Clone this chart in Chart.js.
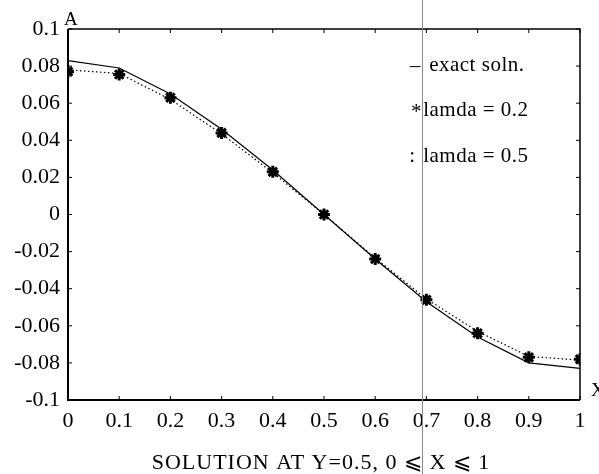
<!DOCTYPE html>
<html>
<head>
<meta charset="utf-8">
<script src="https://cdn.jsdelivr.net/npm/chart.js@4"></script>
<style>
  html, body { margin: 0; padding: 0; background: #fff; }
  #wrap { width: 599px; height: 474px; position: relative; }
</style>
</head>
<body>
<div id="wrap"><canvas id="solnChart" width="599" height="474"></canvas></div>
<script>
// Data
const xValues = [0, 0.1, 0.2, 0.3, 0.4, 0.5, 0.6, 0.7, 0.8, 0.9, 1];
const exactSoln = [0.083, 0.079, 0.065, 0.046, 0.024, 0, -0.024, -0.047, -0.066, -0.080, -0.083];
const lamda02 = [0.077, 0.0755, 0.063, 0.044, 0.023, 0, -0.024, -0.046, -0.064, -0.077, -0.078];
const lamda05 = [0.078, 0.076, 0.062, 0.0435, 0.0225, 0, -0.0235, -0.0455, -0.063, -0.0765, -0.0785];
const legendLabels = ['exact soln.', 'lamda = 0.2', 'lamda = 0.5'];
const titleText = 'SOLUTION AT Y=0.5, 0 \u2A7D X \u2A7D 1';

const SERIF = '"Liberation Serif", "DejaVu Serif", serif';

function toPoints(ys) {
    return xValues.map((x, i) => ({ x: x, y: ys[i] }));
}

function fmt(v) {
    return String(Number(v.toFixed(2)));
}

// Box, inward tick marks, axis letters, legend text and title
const decorations = {
    id: 'decorations',
    afterDraw(chart) {
        const ctx = chart.ctx;
        const a = chart.chartArea;
        const xs = chart.scales.x;
        const ys = chart.scales.y;
        ctx.save();
        ctx.strokeStyle = '#000';

        // frame
        ctx.lineWidth = 1.5;
        ctx.beginPath();
        ctx.moveTo(a.left, a.top); ctx.lineTo(a.right, a.top); ctx.lineTo(a.right, a.bottom);
        ctx.stroke();
        ctx.lineWidth = 2;
        ctx.beginPath();
        ctx.moveTo(a.left, a.top); ctx.lineTo(a.left, a.bottom); ctx.lineTo(a.right, a.bottom);
        ctx.stroke();

        // inward ticks
        ctx.lineWidth = 1;
        ctx.beginPath();
        xs.ticks.forEach(t => {
            const px = xs.getPixelForValue(t.value);
            ctx.moveTo(px, a.bottom); ctx.lineTo(px, a.bottom - 4);
            ctx.moveTo(px, a.top); ctx.lineTo(px, a.top + 4);
        });
        ys.ticks.forEach(t => {
            const py = ys.getPixelForValue(t.value);
            ctx.moveTo(a.left, py); ctx.lineTo(a.left + 4, py);
            ctx.moveTo(a.right, py); ctx.lineTo(a.right - 4, py);
        });
        ctx.stroke();

        ctx.fillStyle = '#000';
        ctx.textBaseline = 'middle';

        // axis letters
        ctx.font = '19px ' + SERIF;
        ctx.textAlign = 'left';
        ctx.fillText('A', a.left - 4, a.top - 9);
        ctx.fillText('X', a.right + 11, ys.getPixelForValue(-0.095));

        // legend
        const lx = xs.getPixelForValue(0.68);
        ctx.font = '21px ' + SERIF;
        ctx.textAlign = 'center';
        ctx.fillText('\u2013', lx - 1, ys.getPixelForValue(0.080));
        ctx.fillText('*', lx, ys.getPixelForValue(0.055));
        ctx.fillText(':', lx - 4, ys.getPixelForValue(0.0315));
        ctx.textAlign = 'left';
        ctx.letterSpacing = '0.5px';
        ctx.fillText(legendLabels[0], lx + 13, ys.getPixelForValue(0.0805));
        ctx.fillText(legendLabels[1], lx + 7, ys.getPixelForValue(0.056));
        ctx.fillText(legendLabels[2], lx + 7, ys.getPixelForValue(0.0315));

        // bottom caption
        ctx.font = '22px ' + SERIF;
        ctx.letterSpacing = '1px';
        ctx.textAlign = 'center';
        ctx.fillText(titleText, 321, 463);
        ctx.letterSpacing = '0px';

        // faint scanner line running the full height
        const sx = Math.round(xs.getPixelForValue(0.692)) + 0.5;
        ctx.strokeStyle = '#8a8a8a';
        ctx.lineWidth = 1;
        ctx.beginPath();
        ctx.moveTo(sx, 0); ctx.lineTo(sx, chart.height);
        ctx.stroke();

        ctx.restore();
    }
};

const chart = new Chart(document.getElementById('solnChart'), {
    type: 'line',
    data: {
        datasets: [
            {
                label: legendLabels[0],
                data: toPoints(exactSoln),
                borderColor: '#000',
                borderWidth: 1.2,
                pointRadius: 0,
                tension: 0,
                fill: false
            },
            {
                label: legendLabels[1],
                data: toPoints(lamda02),
                showLine: false,
                pointStyle: 'star',
                pointRadius: 6,
                borderColor: '#000',
                backgroundColor: '#000',
                pointBorderWidth: 3
            },
            {
                label: legendLabels[2],
                data: toPoints(lamda05),
                borderColor: '#000',
                borderWidth: 1.2,
                borderDash: [1.5, 2.5],
                pointRadius: 0,
                tension: 0,
                fill: false
            }
        ]
    },
    options: {
        responsive: false,
        animation: false,
        layout: { padding: { left: 0, right: 19, top: 29, bottom: 0 } },
        plugins: {
            legend: { display: false },
            tooltip: { enabled: false },
            title: { display: false }
        },
        scales: {
            x: {
                type: 'linear',
                min: 0,
                max: 1,
                grid: { display: false, drawTicks: false },
                border: { display: false },
                ticks: {
                    stepSize: 0.1,
                    autoSkip: false,
                    maxRotation: 0,
                    padding: 8,
                    color: '#000',
                    font: { family: SERIF, size: 22 },
                    callback: v => fmt(v)
                },
                afterFit: scale => { scale.height = 74; }
            },
            y: {
                type: 'linear',
                min: -0.1,
                max: 0.1,
                grid: { display: false, drawTicks: false },
                border: { display: false },
                ticks: {
                    stepSize: 0.02,
                    autoSkip: false,
                    padding: 8,
                    color: '#000',
                    font: { family: SERIF, size: 22 },
                    callback: v => fmt(v)
                },
                afterFit: scale => { scale.width = 68; }
            }
        }
    },
    plugins: [decorations]
});
</script>
</body>
</html>
